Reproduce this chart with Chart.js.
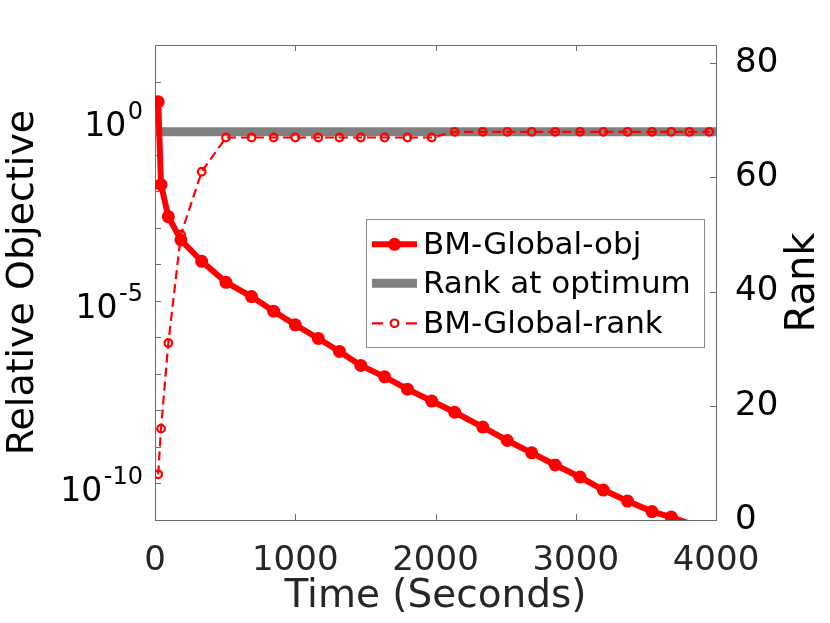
<!DOCTYPE html>
<html>
<head>
<meta charset="utf-8">
<script src="https://cdn.jsdelivr.net/npm/chart.js@4.4.1/dist/chart.umd.min.js"></script>
<style>
  html, body { margin: 0; padding: 0; background: #fff; }
  #wrap { width: 830px; height: 623px; }
</style>
</head>
<body>
<div id="wrap"><canvas id="chart"></canvas></div>
<script>
// values
var times = [23, 43, 95, 185, 333, 506, 688, 846, 1000, 1164, 1315, 1467, 1637, 1800,
             1973, 2137, 2337, 2512, 2686, 2854, 3030, 3197, 3369, 3544, 3681, 3810, 3952];
var objValues = [2.8, 1.5e-2, 2.0e-3, 4.6e-4, 1.2e-4, 3.2e-5, 1.3e-5, 5.2e-6, 2.2e-6, 9.3e-7,
                 4.1e-7, 1.7e-7, 8.3e-8, 3.8e-8, 1.8e-8, 8.9e-9, 3.5e-9, 1.5e-9, 6.9e-10,
                 3.2e-10, 1.5e-10, 6.6e-11, 3.3e-11, 1.7e-11, 1.2e-11, 8.0e-12, 4.5e-12];
var rankValues = [8, 16, 31, 50, 61, 67, 67, 67, 67, 67, 67, 67, 67, 67, 67,
                  68, 68, 68, 68, 68, 68, 68, 68, 68, 68, 68, 68];
var optimumRank = 68;
var timeTicks = [0, 1000, 2000, 3000, 4000];
var rankTicks = [0, 20, 40, 60, 80];
var objDecades = [-11, -10, -9, -8, -7, -6, -5, -4, -3, -2, -1, 0, 1, 2];
var objLabelExps = [0, -5, -10];
var seriesNames = ['BM-Global-obj', 'Rank at optimum', 'BM-Global-rank'];

var objMin = 1e-11, objMax = 1e2;
var RED = '#ff0000', GRAY = '#808080', AXIS = '#6b6b6b';
var FONT = '"DejaVu Sans", sans-serif';

function decorations() {
  return {
    id: 'decor',
    beforeDatasetsDraw: function(chart) {
      var ctx = chart.ctx, a = chart.chartArea;
      var xs = chart.scales.x, ys = chart.scales.y, y2 = chart.scales.y2;
      ctx.save();
      ctx.strokeStyle = AXIS;
      ctx.lineWidth = 1;
      ctx.beginPath();
      ctx.moveTo(a.left, a.top + 0.5); ctx.lineTo(a.right, a.top + 0.5);
      timeTicks.forEach(function(t) {
        var px = Math.round(xs.getPixelForValue(t)) + 0.5;
        ctx.moveTo(px, a.bottom); ctx.lineTo(px, a.bottom - 6);
        ctx.moveTo(px, a.top); ctx.lineTo(px, a.top + 6);
      });
      objDecades.forEach(function(e) {
        var py = Math.round(ys.getPixelForValue(Math.pow(10, e))) + 0.5;
        ctx.moveTo(a.left, py); ctx.lineTo(a.left + 6, py);
      });
      rankTicks.forEach(function(r) {
        var py = Math.round(y2.getPixelForValue(r)) + 0.5;
        ctx.moveTo(a.right, py); ctx.lineTo(a.right - 6, py);
      });
      ctx.stroke();
      ctx.restore();
    },
    afterDraw: function(chart) {
      var ctx = chart.ctx, ys = chart.scales.y;
      ctx.save();
      // log tick labels with superscripts
      ctx.fillStyle = '#000';
      ctx.textAlign = 'right';
      ctx.textBaseline = 'alphabetic';
      objLabelExps.forEach(function(e) {
        var py = ys.getPixelForValue(Math.pow(10, e));
        var ex = String(e);
        ctx.font = '24px ' + FONT;
        var w = ctx.measureText(ex).width;
        ctx.fillText(ex, 143, py + 0.5);
        ctx.font = '33px ' + FONT;
        ctx.fillText('10', 143 - w - 1.5, py + 17.5);
      });
      // right axis title, reading upward
      ctx.translate(804, 282.5);
      ctx.rotate(-Math.PI / 2);
      ctx.font = '40px ' + FONT;
      ctx.textAlign = 'center';
      ctx.textBaseline = 'middle';
      ctx.fillText('Rank', 0, 0);
      ctx.restore();

      // legend
      ctx.save();
      var bx = 366, by = 219, bw = 338, bh = 128;
      ctx.fillStyle = '#fff';
      ctx.fillRect(bx, by, bw, bh);
      ctx.strokeStyle = '#8c8c8c';
      ctx.lineWidth = 1;
      ctx.strokeRect(bx + 0.5, by + 0.5, bw, bh);
      var rows = [244.3, 283.3, 323.3];
      var x0 = 372, x1 = 417, xm = 394.5;
      // obj
      ctx.strokeStyle = RED; ctx.lineWidth = 6;
      ctx.beginPath(); ctx.moveTo(x0, rows[0]); ctx.lineTo(x1, rows[0]); ctx.stroke();
      ctx.fillStyle = RED;
      ctx.beginPath(); ctx.arc(xm, rows[0], 6.5, 0, Math.PI * 2); ctx.fill();
      // optimum
      ctx.strokeStyle = GRAY; ctx.lineWidth = 9;
      ctx.beginPath(); ctx.moveTo(x0, rows[1]); ctx.lineTo(x1, rows[1]); ctx.stroke();
      // rank
      ctx.strokeStyle = RED; ctx.lineWidth = 2.2;
      ctx.beginPath();
      ctx.moveTo(x0, rows[2]); ctx.lineTo(x0 + 11, rows[2]);
      ctx.moveTo(x1 - 11, rows[2]); ctx.lineTo(x1, rows[2]);
      ctx.stroke();
      ctx.fillStyle = '#fff';
      ctx.beginPath(); ctx.arc(xm, rows[2], 3.8, 0, Math.PI * 2); ctx.fill(); ctx.stroke();
      ctx.fillStyle = '#000';
      ctx.font = '31px ' + FONT;
      ctx.textAlign = 'left';
      ctx.textBaseline = 'alphabetic';
      seriesNames.forEach(function(n, i) {
        ctx.fillText(n, 423, rows[i] + 9.5);
      });
      ctx.restore();
    }
  };
}

var ctx = document.getElementById('chart').getContext('2d');
var chart = new Chart(ctx, {
  type: 'line',
  data: {
    datasets: [{
      label: seriesNames[0],
      yAxisID: 'y',
      data: times.map(function(t, i) { return {x: t, y: objValues[i]}; }),
      borderColor: RED,
      backgroundColor: RED,
      borderWidth: 6,
      pointRadius: function(c) { return c.raw && c.raw.y < objMin ? 0 : 6.5; },
      pointBorderWidth: 0,
      pointBackgroundColor: RED,
      tension: 0,
      clip: 0,
      order: 1
    }, {
      label: seriesNames[1],
      yAxisID: 'y2',
      data: [{x: timeTicks[0], y: optimumRank}, {x: timeTicks[timeTicks.length - 1], y: optimumRank}],
      borderColor: GRAY,
      borderWidth: 9,
      pointRadius: 0,
      clip: 0,
      order: 3
    }, {
      label: seriesNames[2],
      yAxisID: 'y2',
      data: times.map(function(t, i) { return {x: t, y: rankValues[i]}; }),
      borderColor: RED,
      borderWidth: 2.2,
      borderDash: [9, 5],
      pointRadius: 3.8,
      pointBorderWidth: 2.2,
      pointBorderColor: RED,
      pointBackgroundColor: 'rgba(0,0,0,0)',
      tension: 0,
      clip: 0,
      order: 2
    }]
  },
  options: {
    responsive: true,
    maintainAspectRatio: false,
    animation: false,
    layout: { padding: { top: 45, left: 0, right: 0, bottom: 0 } },
    plugins: { legend: { display: false }, tooltip: { enabled: false } },
    scales: {
      x: {
        type: 'linear',
        min: 0,
        max: 4000,
        afterBuildTicks: function(s) { s.ticks = timeTicks.map(function(v) { return {value: v}; }); },
        afterFit: function(s) { s.height = 103; },
        grid: { display: false },
        border: { display: true, color: AXIS, width: 1 },
        ticks: { font: { family: FONT, size: 34 }, color: '#262626', padding: 12.6, maxRotation: 0,
                 callback: function(v) { return String(v); } },
        title: { display: true, text: 'Time (Seconds)', color: '#262626',
                 font: { family: FONT, size: 39 }, padding: { top: 0, bottom: 3 } }
      },
      y: {
        type: 'logarithmic',
        position: 'left',
        min: objMin,
        max: objMax,
        afterBuildTicks: function(s) { s.ticks = objDecades.map(function(e) { return {value: Math.pow(10, e)}; }); },
        afterFit: function(s) { s.width = 155; },
        grid: { display: false },
        border: { display: true, color: AXIS, width: 1 },
        ticks: { callback: function() { return ''; } },
        title: { display: true, text: 'Relative Objective', color: '#000',
                 font: { family: FONT, size: 38 }, padding: { top: 0, bottom: 0 } }
      },
      y2: {
        type: 'linear',
        position: 'right',
        min: 0,
        max: 83.2,
        afterBuildTicks: function(s) { s.ticks = rankTicks.map(function(v) { return {value: v}; }); },
        afterFit: function(s) { s.width = 114; },
        grid: { display: false },
        border: { display: true, color: AXIS, width: 1 },
        ticks: { font: { family: FONT, size: 34 }, color: '#000', padding: 11,
                 callback: function(v) { return String(v); } }
      }
    }
  },
  plugins: [decorations()]
});
</script>
</body>
</html>
